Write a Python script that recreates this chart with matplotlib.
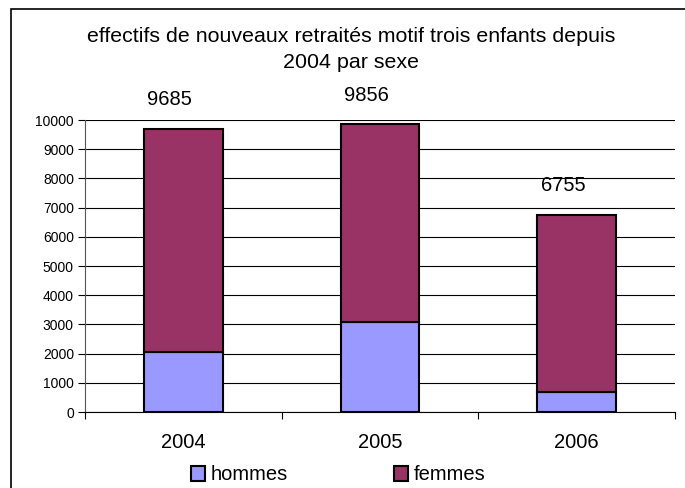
import numpy as np
import matplotlib
matplotlib.use("Agg")
import matplotlib.pyplot as plt
from matplotlib.patches import Rectangle

plt.rcParams['font.family'] = ['Liberation Sans', 'DejaVu Sans']

years = ["2004", "2005", "2006"]
hommes = [2050, 3080, 690]
totals = [9685, 9856, 6755]
femmes = [t - h for t, h in zip(totals, hommes)]

fig = plt.figure(figsize=(6.85, 4.88), dpi=100)
ax = fig.add_axes([85 / 685, (488 - 412) / 488, 590 / 685, 292 / 488])

x = np.arange(len(years))
ax.bar(x, hommes, width=0.4, color="#9999FF", edgecolor="black", linewidth=1.5,
       label="hommes", zorder=3)
ax.bar(x, femmes, width=0.4, bottom=hommes, color="#993366", edgecolor="black",
       linewidth=1.5, label="femmes", zorder=3)

# totals sit about 1000 above the bars, a bit to the left like in the sheet
for i, t in enumerate(totals):
    ax.text(x[i] - 0.07, t + 1000, str(t), ha="center", va="center", fontsize=14.5,
            clip_on=False)

ax.set_xlim(-0.5, 2.5)
ax.set_ylim(0, 10000)
ax.set_yticks(np.arange(0, 10001, 1000))
ax.tick_params(axis="y", labelsize=10, length=5, width=0.8, pad=3)
ax.yaxis.grid(True, color="black", linewidth=0.8, zorder=0)

ax.set_xticks(x)
ax.set_xticklabels(years, fontsize=14.5)
ax.tick_params(axis="x", length=0, pad=15)
ax.set_xticks([-0.5, 0.5, 1.5, 2.5], minor=True)
ax.tick_params(axis="x", which="minor", length=5, width=0.8, direction="out")

for s in ["top", "right"]:
    ax.spines[s].set_visible(False)
ax.spines["left"].set_color("#555555")
ax.spines["bottom"].set_linewidth(0.8)

fig.text(351 / 685, 1 - 36 / 488, "effectifs de nouveaux retraités motif trois enfants depuis",
         ha="center", va="center", fontsize=15.4)
fig.text(351 / 685, 1 - 62 / 488, "2004 par sexe", ha="center", va="center", fontsize=15.4)

fig.legend(loc="center", bbox_to_anchor=(338 / 685, 1 - 475 / 488), ncol=2, frameon=False,
           fontsize=14.5, handlelength=0.7, handleheight=0.7, handletextpad=0.25,
           columnspacing=5.3, borderaxespad=0, borderpad=0)

fig.patches.append(Rectangle((11 / 685, -0.1), 1.2, 1.1 - 9 / 488, transform=fig.transFigure,
                             fill=False, edgecolor="black", linewidth=1.2))

fig.savefig("out.png", dpi=100)
